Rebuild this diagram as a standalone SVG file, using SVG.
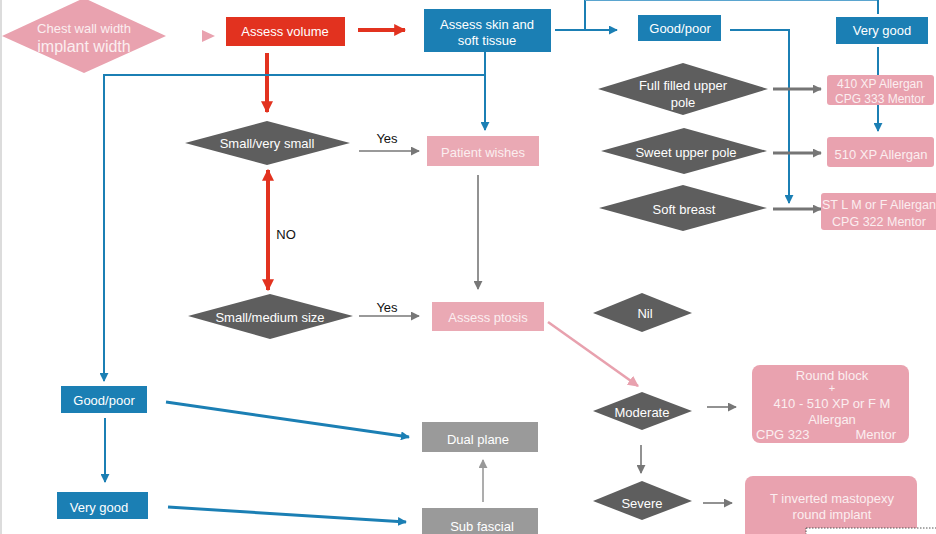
<svg xmlns="http://www.w3.org/2000/svg" width="936" height="534" viewBox="0 0 936 534">
<defs>
<marker id="mRed" viewBox="0 0 10 10" refX="9" refY="5" markerWidth="12" markerHeight="12" markerUnits="userSpaceOnUse" orient="auto-start-reverse"><path d="M0,0 L10,5 L0,10 z" fill="#e2321f"/></marker>
<marker id="mBlue" viewBox="0 0 10 10" refX="9" refY="5" markerWidth="9" markerHeight="9" markerUnits="userSpaceOnUse" orient="auto"><path d="M0,0 L10,5 L0,10 z" fill="#1b7fb4"/></marker>
<marker id="mGray" viewBox="0 0 10 10" refX="9" refY="5" markerWidth="9" markerHeight="9" markerUnits="userSpaceOnUse" orient="auto"><path d="M0,0 L10,5 L0,10 z" fill="#777"/></marker>
<marker id="mGrayL" viewBox="0 0 10 10" refX="9" refY="5" markerWidth="9" markerHeight="9" markerUnits="userSpaceOnUse" orient="auto"><path d="M0,0 L10,5 L0,10 z" fill="#999"/></marker>
<marker id="mPink" viewBox="0 0 10 10" refX="9" refY="5" markerWidth="11" markerHeight="11" markerUnits="userSpaceOnUse" orient="auto"><path d="M0,0 L10,5 L0,10 z" fill="#e8a1ae"/></marker>
</defs>
<style>
text{font-family:"Liberation Sans",Arial,sans-serif;font-size:13px;text-anchor:middle;dominant-baseline:central}
.w{fill:#ffffff}
.pt{fill:#fbeef0}
.k{fill:#111}
.red{fill:#e2321f}
.blue{fill:#1b7fb4}
.pink{fill:#e9a2af}
.pinkl{fill:#eaa9b4}
.dia{fill:#5e5e5e}
.gbox{fill:#9a9a9a}
.lr{stroke:#e2321f;stroke-width:4;fill:none}
.lb{stroke:#1b7fb4;stroke-width:2;fill:none}
.lbt{stroke:#1b7fb4;stroke-width:3;fill:none}
.lg{stroke:#777;stroke-width:1.6;fill:none}
.lgt{stroke:#757575;stroke-width:3;fill:none}
.lgl{stroke:#999;stroke-width:1.6;fill:none}
.lp{stroke:#e8a1ae;stroke-width:2.5;fill:none}
</style>
<rect x="0" y="0" width="936" height="534" fill="#ffffff"/>
<line x1="1" y1="0" x2="1" y2="534" stroke="#dcdcdc" stroke-width="2"/>

<g id="connectors">
<line class="lr" x1="358" y1="30" x2="405" y2="30" marker-end="url(#mRed)"/>
<line class="lr" x1="267" y1="53" x2="267" y2="112" marker-end="url(#mRed)"/>
<line class="lr" x1="268" y1="170" x2="268" y2="290" marker-start="url(#mRed)" marker-end="url(#mRed)"/>
<polyline class="lb" points="555,30 617,30" marker-end="url(#mBlue)"/>
<line class="lb" x1="585" y1="30" x2="585" y2="0"/>
<line class="lb" x1="585" y1="0" x2="878" y2="0" style="stroke:#5aa5cf"/>
<line class="lb" x1="878" y1="0" x2="878" y2="14"/>
<polyline class="lb" points="730,30 789,30 789,203" marker-end="url(#mBlue)"/>
<line class="lb" x1="878" y1="47" x2="878" y2="75"/>
<line class="lb" x1="878" y1="105" x2="878" y2="131" marker-end="url(#mBlue)"/>
<line class="lb" x1="485" y1="52" x2="485" y2="130" marker-end="url(#mBlue)"/>
<polyline class="lb" points="485,75 104,75 104,381" marker-end="url(#mBlue)"/>
<line class="lb" x1="105" y1="418" x2="105" y2="482" marker-end="url(#mBlue)"/>
<line class="lbt" x1="166" y1="402" x2="409" y2="437" marker-end="url(#mBlue)"/>
<line class="lbt" x1="168" y1="507" x2="406" y2="522" marker-end="url(#mBlue)"/>
<line class="lgl" x1="483" y1="502" x2="483" y2="460" marker-end="url(#mGrayL)"/>
<line class="lg" x1="359" y1="151" x2="419" y2="151" marker-end="url(#mGray)"/>
<line class="lg" x1="359" y1="316" x2="419" y2="316" marker-end="url(#mGray)"/>
<line class="lg" x1="478" y1="175" x2="478" y2="289" marker-end="url(#mGray)"/>
<line class="lgt" x1="773" y1="89" x2="821" y2="89" marker-end="url(#mGray)"/>
<line class="lgt" x1="773" y1="153" x2="821" y2="153" marker-end="url(#mGray)"/>
<line class="lgt" x1="773" y1="209" x2="821" y2="209" marker-end="url(#mGray)"/>
<line class="lp" x1="548" y1="322" x2="638" y2="386" marker-end="url(#mPink)"/>
<line class="lg" x1="707" y1="407" x2="736" y2="407" marker-end="url(#mGray)"/>
<line class="lg" x1="641" y1="445" x2="641" y2="473" marker-end="url(#mGray)"/>
<line class="lg" x1="703" y1="503" x2="732" y2="503" marker-end="url(#mGray)"/>
<path d="M202,30 L215,36 L202,42 z" fill="#e9a2af"/>
</g>

<g id="n-chest">
<polygon class="pink" points="2,36 84,-2 166,36 84,73"/>
<text class="pt" x="84" y="28">Chest wall width</text>
<text class="pt" x="84" y="46" style="font-size:16px">implant width</text>
</g>
<g id="n-volume">
<rect class="red" x="226" y="17" width="119" height="29"/>
<text class="w" x="285" y="31">Assess volume</text>
</g>
<g id="n-skin">
<rect class="blue" x="424" y="9" width="127" height="43"/>
<text class="w" x="487" y="24">Assess skin and</text>
<text class="w" x="487" y="40">soft tissue</text>
</g>
<g id="n-goodpoor-top">
<rect class="blue" x="638" y="15" width="83" height="26"/>
<text class="w" x="680" y="28">Good/poor</text>
</g>
<g id="n-verygood-top">
<rect class="blue" x="836" y="17" width="92" height="27"/>
<text class="w" x="882" y="30">Very good</text>
</g>
<g id="n-fullfilled">
<polygon class="dia" points="598,89 683,63 768,89 683,115"/>
<text class="w" x="683" y="85">Full filled upper</text>
<text class="w" x="683" y="102">pole</text>
</g>
<g id="n-sweet">
<polygon class="dia" points="601,151 684,128 767,151 684,174"/>
<text class="w" x="686" y="152">Sweet upper pole</text>
</g>
<g id="n-soft">
<polygon class="dia" points="599,208 683,185 767,208 683,231"/>
<text class="w" x="684" y="209">Soft breast</text>
</g>
<g id="n-410">
<rect class="pink" x="827" y="75" width="107" height="30" rx="3"/>
<text class="pt" x="880" y="84" style="font-size:12px">410 XP Allergan</text>
<text class="pt" x="880" y="99" style="font-size:12px">CPG 333 Mentor</text>
</g>
<g id="n-510">
<rect class="pink" x="827" y="137" width="107" height="30" rx="3"/>
<text class="pt" x="881" y="154">510 XP Allergan</text>
</g>
<g id="n-stlm">
<rect class="pink" x="821" y="193" width="118" height="37" rx="3"/>
<text class="pt" x="879" y="205" style="font-size:12.5px">ST L M or F Allergan</text>
<text class="pt" x="879" y="222" style="font-size:12.5px">CPG 322 Mentor</text>
</g>
<g id="n-smallvery">
<polygon class="dia" points="185,143 267,121 350,143 267,165"/>
<text class="w" x="267" y="143">Small/very small</text>
</g>
<g id="n-smallmed">
<polygon class="dia" points="188,316 270,294 353,316 270,339"/>
<text class="w" x="270" y="317">Small/medium size</text>
</g>
<g id="n-patient">
<rect class="pinkl" x="427" y="136" width="112" height="30"/>
<text class="pt" x="483" y="152">Patient wishes</text>
</g>
<g id="n-ptosis">
<rect class="pinkl" x="432" y="302" width="112" height="29"/>
<text class="pt" x="488" y="317">Assess ptosis</text>
</g>
<g id="labels">
<text class="k" x="387" y="138">Yes</text>
<text class="k" x="387" y="307">Yes</text>
<text class="k" x="286" y="234">NO</text>
</g>
<g id="n-nil">
<polygon class="dia" points="593,313 642,293 692,313 642,332"/>
<text class="w" x="645" y="313">Nil</text>
</g>
<g id="n-moderate">
<polygon class="dia" points="593,411 642,392 692,411 642,430"/>
<text class="w" x="642" y="412">Moderate</text>
</g>
<g id="n-severe">
<polygon class="dia" points="593,501 642,481 692,501 642,520"/>
<text class="w" x="642" y="503">Severe</text>
</g>
<g id="n-round">
<rect class="pink" x="752" y="365" width="157" height="78" rx="8"/>
<text class="pt" x="832" y="375">Round block</text>
<text class="pt" x="832" y="388" style="font-size:11px">+</text>
<text class="pt" x="832" y="403">410 - 510 XP or F M</text>
<text class="pt" x="832" y="419">Allergan</text>
<text class="pt" x="756" y="434" style="text-anchor:start">CPG 323</text>
<text class="pt" x="896" y="434" style="text-anchor:end">Mentor</text>
</g>
<g id="n-tinverted">
<rect class="pink" x="745" y="476" width="172" height="66" rx="8"/>
<text class="pt" x="832" y="498">T inverted mastopexy</text>
<text class="pt" x="832" y="514">round implant</text>
</g>
<g id="n-goodpoor-bottom">
<rect class="blue" x="61" y="386" width="86" height="27"/>
<text class="w" x="104" y="400">Good/poor</text>
</g>
<g id="n-verygood-bottom">
<rect class="blue" x="57" y="492" width="91" height="27"/>
<text class="w" x="99" y="507">Very good</text>
</g>
<g id="n-dual">
<rect class="gbox" x="422" y="422" width="116" height="30"/>
<text class="w" x="478" y="439">Dual plane</text>
</g>
<g id="n-subfascial">
<rect class="gbox" x="422" y="508" width="116" height="30"/>
<text class="w" x="482" y="526">Sub fascial</text>
</g>
<rect x="806" y="528" width="134" height="12" fill="#ffffff" stroke="#555" stroke-width="1" stroke-dasharray="1.5,1.5"/>
</svg>
